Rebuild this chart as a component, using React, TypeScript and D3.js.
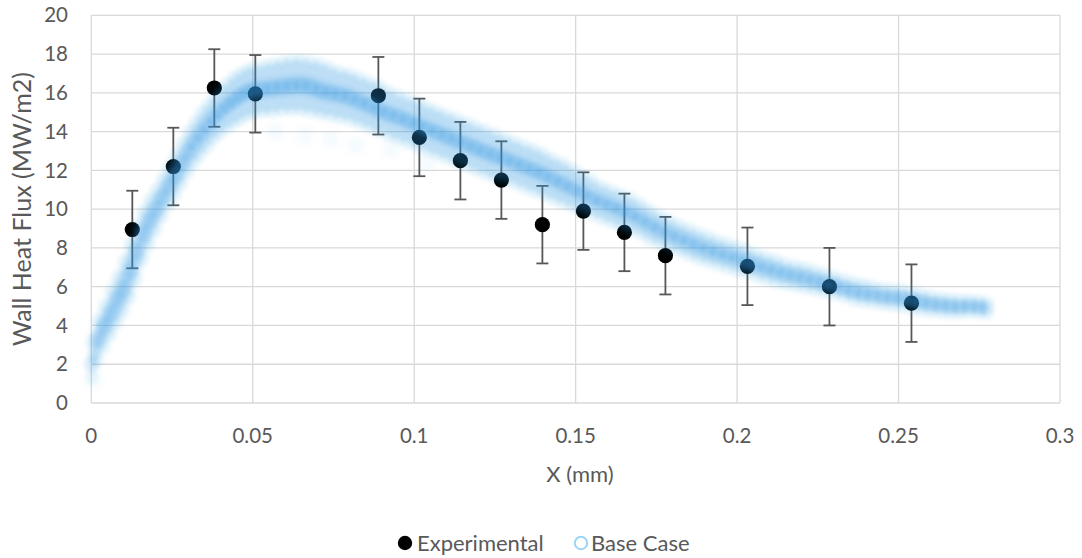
import React from 'react';
import * as d3 from 'd3';

const W = 1082;
const H = 558;

// Experimental wall heat flux measurements (MW/m2) with ±2 uncertainty
const expX = [0.0127, 0.0254, 0.0381, 0.0508, 0.0889, 0.1016, 0.1143, 0.127, 0.1397, 0.1524, 0.1651, 0.1778, 0.2032, 0.2286, 0.254];
const expY = [8.95, 12.2, 16.25, 15.95, 15.85, 13.7, 12.5, 11.5, 9.2, 9.9, 8.8, 7.6, 7.05, 6.0, 5.15];
const expErr = 2;

// Base case simulation cloud: position, band centre and band edges
const baseX = [
  0, 0.002, 0.004, 0.006, 0.008, 0.01, 0.012, 0.014, 0.016, 0.018, 0.02, 0.022, 0.024, 0.026, 0.028, 0.03,
  0.032, 0.034, 0.036, 0.038, 0.04, 0.042, 0.044, 0.046, 0.048, 0.05, 0.053, 0.056, 0.059, 0.062, 0.065,
  0.068, 0.071, 0.074, 0.077, 0.08, 0.083, 0.086, 0.089, 0.092, 0.095, 0.098, 0.101, 0.104, 0.107, 0.11,
  0.113, 0.116, 0.119, 0.122, 0.125, 0.128, 0.131, 0.134, 0.137, 0.14, 0.143, 0.146, 0.149, 0.152, 0.155,
  0.158, 0.161, 0.164, 0.167, 0.17, 0.173, 0.176, 0.179, 0.182, 0.185, 0.188, 0.191, 0.194, 0.197, 0.2,
  0.203, 0.206, 0.209, 0.212, 0.215, 0.218, 0.221, 0.224, 0.227, 0.23, 0.233, 0.236, 0.239, 0.242, 0.245,
  0.248, 0.251, 0.254, 0.257, 0.26, 0.263, 0.266, 0.269, 0.272, 0.275, 0.2775,
];
const baseMid = [
  2.0, 3.3, 4.0, 4.6, 5.3, 5.9, 6.8, 7.8, 8.7, 9.4, 10.0, 10.6, 11.2, 11.75, 12.35, 12.95,
  13.45, 13.9, 14.3, 14.7, 15.05, 15.35, 15.6, 15.85, 16.05, 16.15, 16.2, 16.25, 16.3, 16.35, 16.4,
  16.3, 16.1, 16.0, 15.9, 15.75, 15.55, 15.35, 15.1, 14.9, 14.75, 14.55, 14.35, 14.15, 13.95, 13.75,
  13.55, 13.35, 13.15, 12.95, 12.75, 12.6, 12.4, 12.2, 12.0, 11.8, 11.55, 11.3, 11.05, 10.8, 10.55,
  10.35, 10.15, 9.95, 9.75, 9.5, 9.2, 8.95, 8.7, 8.5, 8.3, 8.1, 7.9, 7.75, 7.6, 7.45,
  7.3, 7.1, 6.95, 6.8, 6.65, 6.55, 6.45, 6.3, 6.2, 6.05, 5.9, 5.75, 5.65, 5.6, 5.5,
  5.45, 5.4, 5.3, 5.2, 5.1, 5.05, 5.0, 4.95, 5.0, 4.95, 4.9,
];
const baseHi = [
  3.2, 4.3, 5.0, 5.8, 6.5, 7.3, 8.2, 9.1, 9.9, 10.5, 11.0, 11.6, 12.2, 12.8, 13.4, 14.0,
  14.5, 15.0, 15.4, 15.8, 16.2, 16.5, 16.8, 17.0, 17.2, 17.3, 17.4, 17.5, 17.6, 17.7, 17.7,
  17.6, 17.5, 17.3, 17.1, 17.0, 16.8, 16.6, 16.4, 16.1, 15.9, 15.7, 15.5, 15.3, 15.1, 14.9,
  14.7, 14.5, 14.3, 14.1, 13.9, 13.7, 13.5, 13.3, 13.1, 12.9, 12.6, 12.4, 12.1, 11.8, 11.5,
  11.2, 11.0, 10.8, 10.6, 10.3, 10.0, 9.7, 9.45, 9.2, 9.0, 8.8, 8.6, 8.4, 8.25, 8.1,
  7.9, 7.7, 7.55, 7.4, 7.2, 7.1, 7.0, 6.85, 6.7, 6.55, 6.4, 6.25, 6.15, 6.05, 5.95,
  5.9, 5.85, 5.75, 5.65, 5.55, 5.45, 5.4, 5.35, 5.35, 5.3, 5.2,
];
const baseLo = [
  1.3, 2.2, 2.9, 3.5, 4.1, 4.7, 5.4, 6.4, 7.4, 8.2, 8.9, 9.6, 10.2, 10.7, 11.3, 11.9,
  12.4, 12.8, 13.2, 13.6, 13.9, 14.2, 14.4, 14.6, 14.8, 14.9, 15.0, 15.0, 15.1, 15.1, 15.1,
  15.0, 14.9, 14.8, 14.7, 14.6, 14.4, 14.2, 14.0, 13.8, 13.6, 13.4, 13.2, 13.0, 12.8, 12.6,
  12.4, 12.2, 12.0, 11.8, 11.6, 11.5, 11.3, 11.1, 10.9, 10.7, 10.5, 10.3, 10.1, 9.9, 9.7,
  9.5, 9.3, 9.1, 8.9, 8.7, 8.4, 8.2, 8.0, 7.8, 7.6, 7.4, 7.25, 7.1, 6.95, 6.8,
  6.7, 6.5, 6.35, 6.2, 6.1, 6.0, 5.9, 5.8, 5.7, 5.6, 5.45, 5.3, 5.2, 5.15, 5.05,
  5.0, 4.95, 4.85, 4.75, 4.7, 4.65, 4.6, 4.6, 4.65, 4.6, 4.6,
];
// Scattered stray samples under the peak
const strayX = [0.057, 0.066, 0.074, 0.082, 0.093, 0.104, 0.001];
const strayY = [14.0, 13.8, 13.6, 13.3, 13.1, 12.4, 1.2];

const xTicks = [0, 0.05, 0.1, 0.15, 0.2, 0.25, 0.3];
const yTicks = [0, 2, 4, 6, 8, 10, 12, 14, 16, 18, 20];

const FONT = 'Lato, "Open Sans", sans-serif';
const TEXT = '#595959';
const GRID = '#d9d9d9';
const BLUE = '#2f95e0';

export default function App() {
  const x = d3.scaleLinear().domain([0, 0.3]).range([91.3, 1060]);
  const y = d3.scaleLinear().domain([0, 20]).range([403, 15.3]);

  const [x0, x1] = x.range();
  const [y0, y1] = y.range();

  const idx = baseX.map((_, i) => i);
  const band = d3
    .area<number>()
    .x((i) => x(baseX[i]))
    .y0((i) => y(baseLo[i]))
    .y1((i) => y(baseHi[i]))
    .curve(d3.curveCatmullRom);
  const core = d3
    .area<number>()
    .x((i) => x(baseX[i]))
    .y0((i) => y((baseLo[i] + baseMid[i] * 2) / 3))
    .y1((i) => y((baseHi[i] + baseMid[i] * 2) / 3))
    .curve(d3.curveCatmullRom);

  return (
    <div style={{ position: 'fixed', left: 0, top: 0, width: W, height: H, background: '#fff' }}>
      <svg width={W} height={H} style={{ display: 'block' }} fontFamily={FONT}>
        <defs>
          <filter id="haze" x="-5%" y="-10%" width="110%" height="120%">
            <feGaussianBlur stdDeviation="3.5" />
          </filter>
          <filter id="soft" x="-5%" y="-10%" width="110%" height="120%">
            <feGaussianBlur stdDeviation="1.5" />
          </filter>
          <filter id="stray" x="-50%" y="-50%" width="200%" height="200%">
            <feGaussianBlur stdDeviation="3" />
          </filter>
        </defs>
        <rect width={W} height={H} fill="#fff" />

        {/* grid */}
        {yTicks.map((t) => (
          <line key={'gy' + t} x1={x0} x2={x1} y1={y(t)} y2={y(t)} stroke={GRID} strokeWidth={1.3} />
        ))}
        {xTicks.map((t) => (
          <line key={'gx' + t} x1={x(t)} x2={x(t)} y1={y0} y2={y1} stroke={GRID} strokeWidth={1.3} />
        ))}

        {/* tick labels */}
        {yTicks.map((t) => (
          <text key={'ly' + t} x={68} y={y(t)} dy="0.35em" textAnchor="end" fontSize={20.5} fill={TEXT}>
            {t}
          </text>
        ))}
        {xTicks.map((t) => (
          <text key={'lx' + t} x={x(t)} y={436} dy="0.35em" textAnchor="middle" fontSize={20.5} fill={TEXT}>
            {String(t)}
          </text>
        ))}

        {/* axis titles */}
        <text x={580} y={474} dy="0.35em" textAnchor="middle" fontSize={22} fill={TEXT}>
          X (mm)
        </text>
        <text
          transform={`translate(22,${(y0 + y1) / 2}) rotate(-90)`}
          dy="0.35em"
          textAnchor="middle"
          fontSize={25}
          fill={TEXT}
        >
          Wall Heat Flux (MW/m2)
        </text>

        {/* experimental points with error bars */}
        <g>
          {expX.map((v, i) => {
            const cx = x(v);
            const top = y(expY[i] + expErr);
            const bot = y(expY[i] - expErr);
            return (
              <g key={'e' + i} stroke="#575757" strokeWidth={1.8}>
                <line x1={cx} x2={cx} y1={top} y2={bot} />
                <line x1={cx - 6} x2={cx + 6} y1={top} y2={top} />
                <line x1={cx - 6} x2={cx + 6} y1={bot} y2={bot} />
              </g>
            );
          })}
          {expX.map((v, i) => (
            <circle key={'p' + i} cx={x(v)} cy={y(expY[i])} r={7.6} fill="#000" />
          ))}
        </g>

        {/* base case cloud */}
        <path d={band(idx) ?? ''} fill={BLUE} fillOpacity={0.3} filter="url(#haze)" />
        <path d={core(idx) ?? ''} fill={BLUE} fillOpacity={0.32} filter="url(#haze)" />
        <g filter="url(#stray)">
          {strayX.map((v, i) => (
            <circle key={'bs' + i} cx={x(v)} cy={y(strayY[i])} r={9} fill={BLUE} fillOpacity={0.04} />
          ))}
        </g>
        <g filter="url(#soft)">
          {baseX.map((v, i) => (
            <circle key={'bh' + i} cx={x(v)} cy={y(baseHi[i])} r={7} fill={BLUE} fillOpacity={0.05} />
          ))}
          {baseX.map((v, i) => (
            <circle key={'bl' + i} cx={x(v)} cy={y(baseLo[i])} r={7} fill={BLUE} fillOpacity={0.05} />
          ))}
          {baseX.map((v, i) => (
            <circle key={'bm' + i} cx={x(v)} cy={y(baseMid[i])} r={8} fill={BLUE} fillOpacity={0.1} />
          ))}
        </g>

        {/* legend */}
        <g fontSize={22} fill={TEXT}>
          <circle cx={405} cy={543} r={7.2} fill="#000" />
          <text x={417} y={543} dy="0.35em">Experimental</text>
          <circle cx={581} cy={543} r={6.2} fill="none" stroke="#9ad5f2" strokeWidth={2} />
          <text x={591} y={543} dy="0.35em">Base Case</text>
        </g>
      </svg>
    </div>
  );
}
